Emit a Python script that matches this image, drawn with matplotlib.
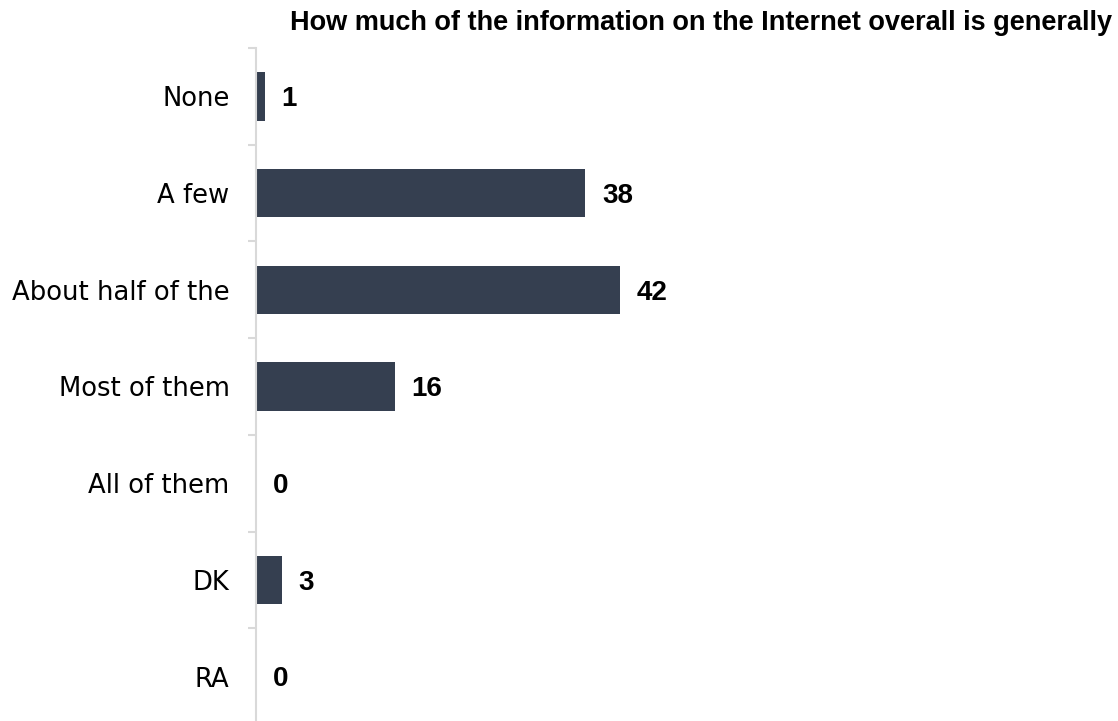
import matplotlib.pyplot as plt
import numpy as np

categories = ["None", "A few", "About half of the", "Most of them", "All of them", "DK", "RA"]
values = [1, 38, 42, 16, 0, 3, 0]
title = "How much of the information on the Internet overall is generally"

bar_color = "#353f50"
axis_gray = "#d9d9d9"

fig = plt.figure(figsize=(11.18, 7.21), dpi=100)
ax = fig.add_axes([256 / 1118, -4 / 721, 867 / 1118, 677 / 721])

y = np.arange(len(categories))
ax.barh(y, values, height=0.5, color=bar_color)
for yi, v in zip(y, values):
    ax.annotate(str(v), (v, yi), xytext=(12, -2), textcoords="offset points",
                va="center", ha="left", fontsize=20, fontweight="bold",
                family="Liberation Sans", color="black")

ax.set_xlim(0, 100)
ax.set_ylim(len(categories) - 0.5, -0.5)
ax.set_yticks(y)
ax.set_yticklabels(categories, fontsize=18.6, family="DejaVu Sans")
ax.set_yticks(np.arange(-0.5, len(categories), 1), minor=True)
ax.tick_params(axis="y", which="major", length=0, pad=19)
ax.tick_params(axis="y", which="minor", length=6, width=1.5, color=axis_gray)
ax.set_xticks([])
for s in ["top", "right", "bottom"]:
    ax.spines[s].set_visible(False)
ax.spines["left"].set_color(axis_gray)
ax.spines["left"].set_linewidth(1.5)

fig.text(290 / 1118, 1 - 23 / 721, title, ha="left", va="center",
         fontsize=19.5, fontweight="bold", family="Liberation Sans")

fig.savefig("out.png", dpi=100)
